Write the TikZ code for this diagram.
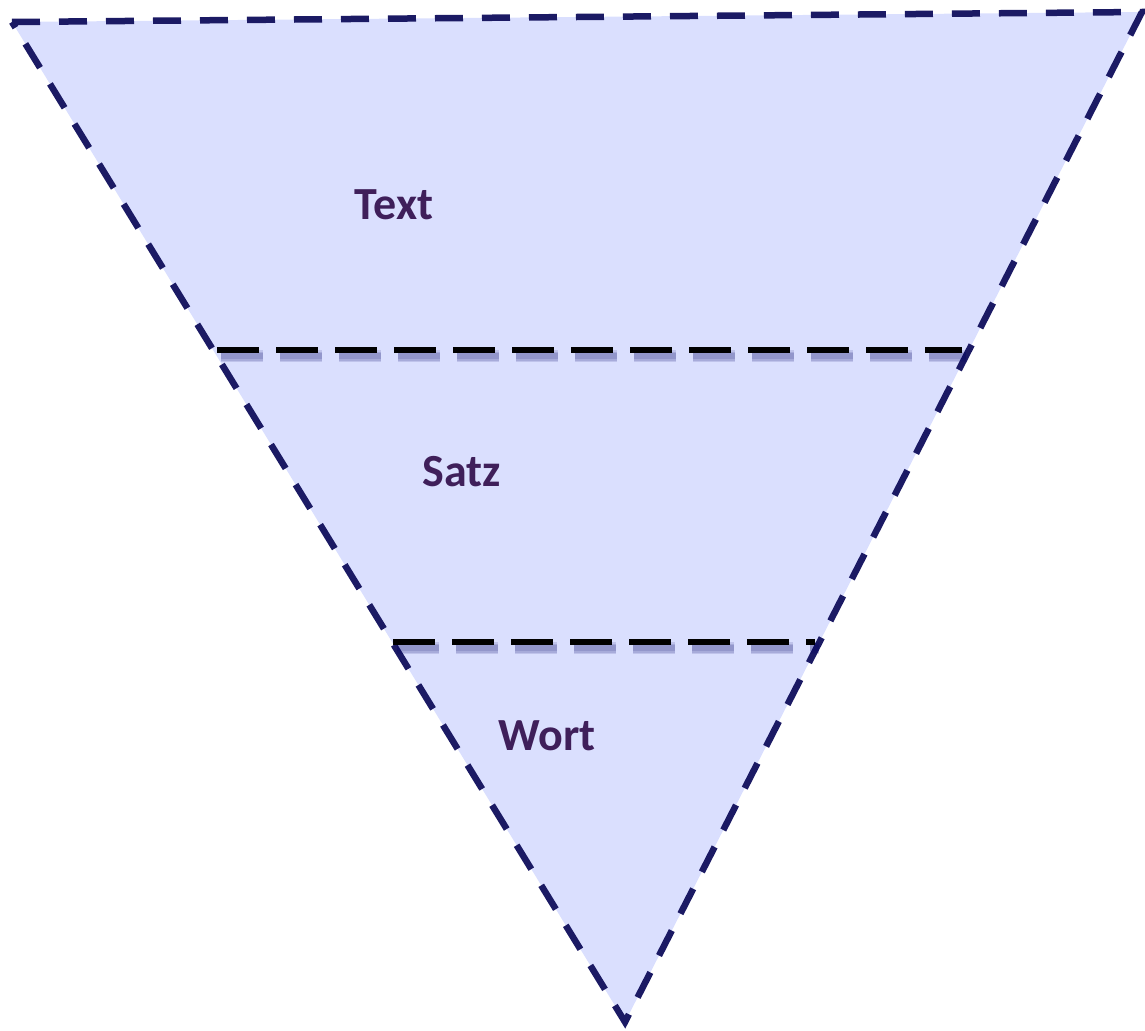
\documentclass[tikz,border=0pt]{standalone}
\usepackage{fontspec}
\setmainfont{Carlito}
\definecolor{funnelfill}{HTML}{DADFFE}
\definecolor{funneledge}{HTML}{1B1A64}
\definecolor{labelcol}{HTML}{3F1F5A}
\tikzset{
  funnel/.style={fill=funnelfill, draw=funneledge, line width=6.5pt,
    dash pattern=on 28pt off 19pt, line join=miter},
  divider/.style={draw=black, line width=5.5pt, dash pattern=on 42pt off 17pt},
  dividershadow/.style={draw=black!60!blue, line width=#1, dash pattern=on 42pt off 17pt, opacity=0.12},
  level/.style={font=\bfseries\fontsize{46}{54}\selectfont, text=labelcol}
}
\begin{document}
\begin{tikzpicture}[x=1pt,y=-1pt]
  \useasboundingbox (0,0) rectangle (1145,1030);
  % funnel outline
  \coordinate (tl) at (12,22);
  \coordinate (tr) at (1142,12);
  \coordinate (bt) at (625,1022);
  \path[funnel] (tl) -- (tr) -- (bt) -- cycle;
  % level dividers with a soft drop shadow
  \coordinate (a1) at (217,350);
  \coordinate (a2) at (962,350);
  \coordinate (b1) at (393,642);
  \coordinate (b2) at (815,642);
  \foreach \w in {12pt,9pt,6pt}{
    \draw[dividershadow=\w] ([shift={(4,6)}]a1) -- ([shift={(4,6)}]a2);
    \draw[dividershadow=\w] ([shift={(4,6)}]b1) -- ([shift={(4,6)}]b2);
  }
  \draw[divider] (a1) -- (a2);
  \draw[divider] (b1) -- (b2);
  % level labels
  \node[level] (text) at (394,205) {Text};
  \node[level] (satz) at (462,472) {Satz};
  \node[level] (wort) at (547,736) {Wort};
\end{tikzpicture}
\end{document}
